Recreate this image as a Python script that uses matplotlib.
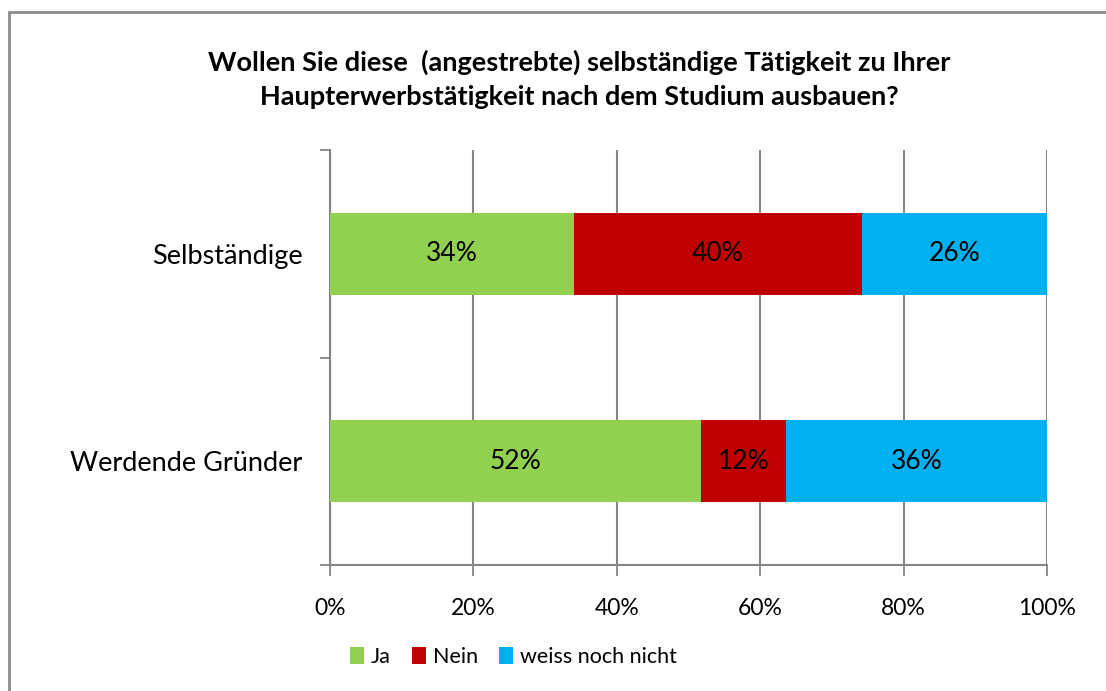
import matplotlib.pyplot as plt
import matplotlib
from matplotlib.patches import Rectangle, Patch
import numpy as np

matplotlib.rcParams["font.family"] = ["Lato", "DejaVu Sans"]

# data (percent), bottom-to-top order like the Excel chart
categories = ["Werdende Gründer", "Selbständige"]
ja = [51.7, 34.0]
nein = [11.9, 40.2]
weiss = [36.4, 25.8]
labels_ja = ["52%", "34%"]
labels_nein = ["12%", "40%"]
labels_weiss = ["36%", "26%"]

SERIES = ["Ja", "Nein", "weiss noch nicht"]
COLORS = ["#92D050", "#C00000", "#00B0F0"]
GRID = "#868686"

W, H = 1106, 691
fig = plt.figure(figsize=(W / 100, H / 100), dpi=100)

# outer chart frame (right/bottom edges fall outside the image)
fig.patches.append(Rectangle((9 / W, -0.1), 1.2, 1 - 12 / H + 0.1,
                             transform=fig.transFigure, fill=False,
                             edgecolor="#8c8c8c", linewidth=2))

ax = fig.add_axes([330 / W, 1 - 565 / H, (1047 - 330) / W, (565 - 150) / H])

y = np.arange(len(categories))
h = 0.395
left = np.zeros(len(categories))
for vals, labs, color, name in zip([ja, nein, weiss],
                                   [labels_ja, labels_nein, labels_weiss],
                                   COLORS, SERIES):
    vals = np.array(vals)
    ax.barh(y, vals, h, left=left, color=color, label=name, zorder=3)
    for yi, l, v, t in zip(y, left, vals, labs):
        ax.text(l + v / 2, yi, t, ha="center", va="center", fontsize=19, zorder=4)
    left = left + vals

ax.set_xlim(0, 100)
ax.set_ylim(-0.5, 1.5)
ax.set_xticks(np.arange(0, 101, 20))
ax.set_xticklabels([f"{v}%" for v in range(0, 101, 20)])
ax.set_yticks([-0.5, 0.5, 1.5])
ax.set_yticklabels([])
ax.set_yticks(y, minor=True)
ax.set_yticklabels(categories, minor=True)
ax.tick_params(axis="y", which="minor", length=0, pad=20, labelsize=19.5)
ax.tick_params(axis="y", which="major", length=7, width=1.3, color=GRID)
ax.tick_params(axis="x", length=8, width=1.3, color=GRID, pad=16, labelsize=16.5)

ax.grid(axis="x", color=GRID, linewidth=1.5, zorder=0)
for side in ["top", "right"]:
    ax.spines[side].set_visible(False)
for side in ["left", "bottom"]:
    ax.spines[side].set_color(GRID)
    ax.spines[side].set_linewidth(1.5)

fig.text(579 / W, 1 - 79 / H,
         "Wollen Sie diese  (angestrebte) selbständige Tätigkeit zu Ihrer\n"
         "Haupterwerbstätigkeit nach dem Studium ausbauen?",
         ha="center", va="center", fontsize=19.5, fontweight="bold", linespacing=1.5)

handles = [Patch(facecolor=c, label=s) for c, s in zip(COLORS, SERIES)]
fig.legend(handles=handles, loc="center left", bbox_to_anchor=(331 / W, 1 - 657 / H),
           ncol=3, frameon=False, fontsize=15.5,
           handlelength=0.65, handleheight=0.8, handletextpad=0.3,
           columnspacing=1.0)

fig.savefig("out.png", dpi=100)
